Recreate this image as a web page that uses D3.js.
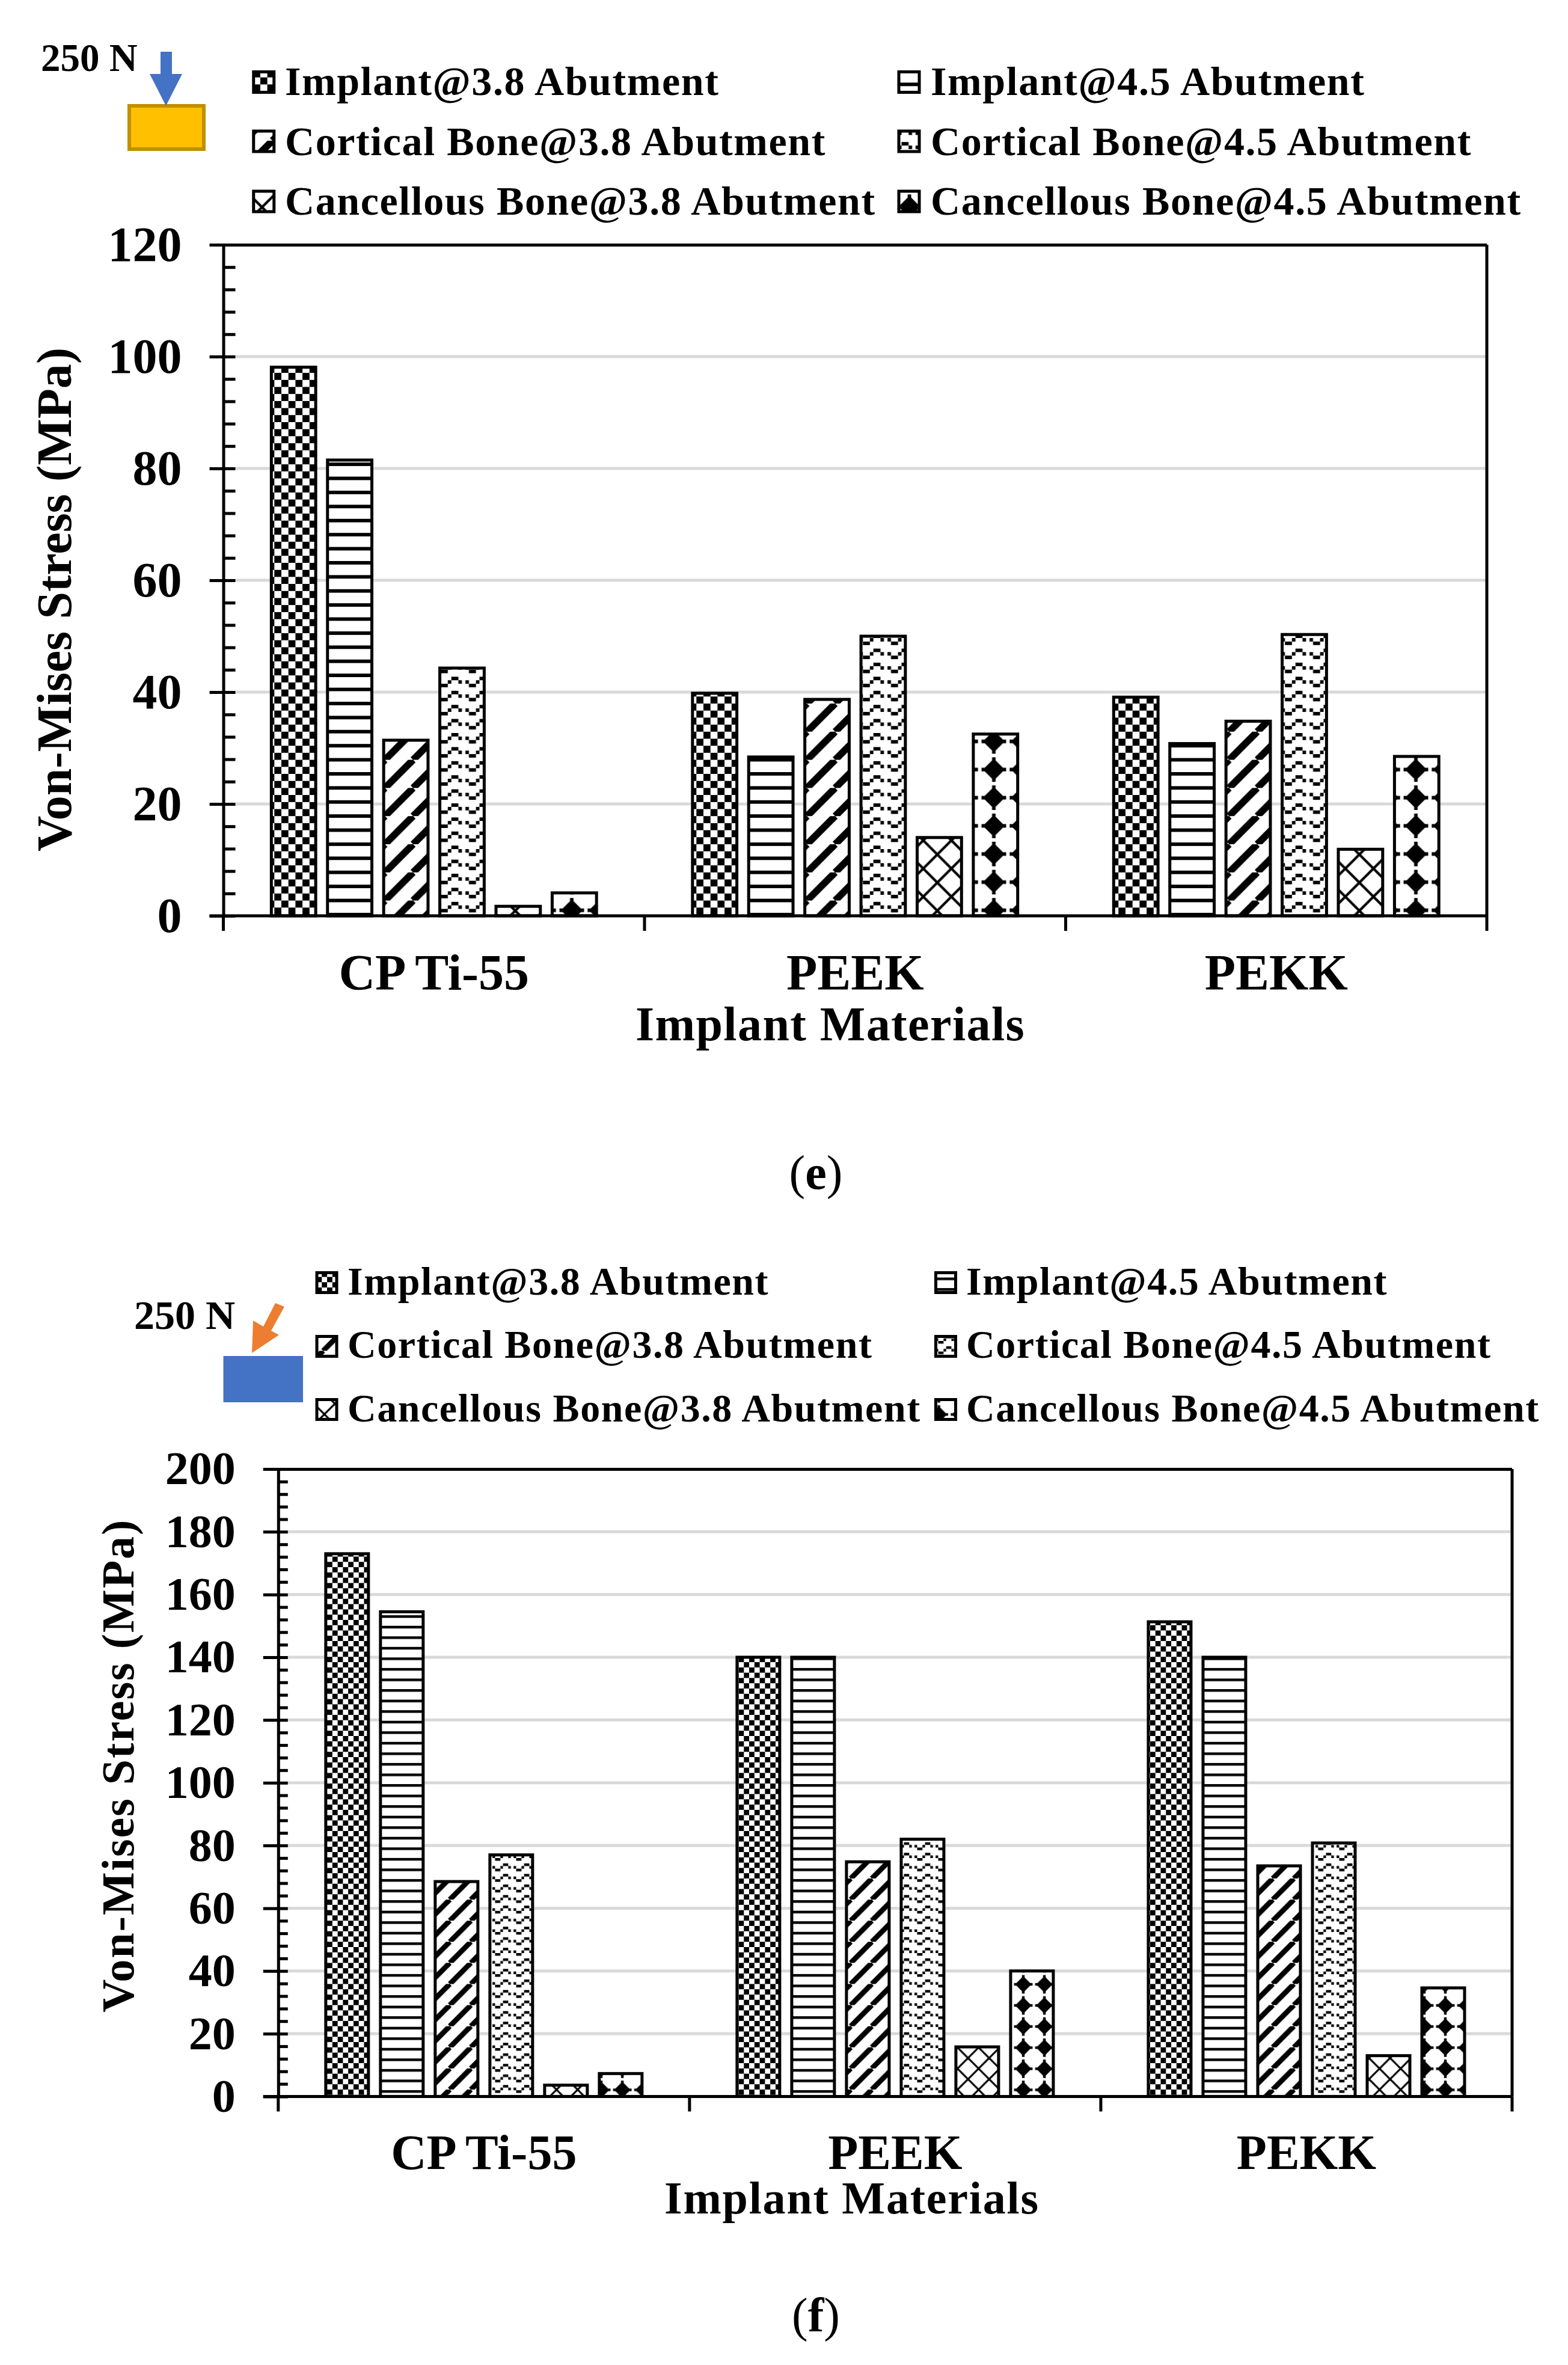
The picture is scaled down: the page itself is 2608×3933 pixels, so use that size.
<!DOCTYPE html>
<html>
<head>
<meta charset="utf-8">
<script src="https://d3js.org/d3.v7.min.js"></script>
<style>
  body { margin: 0; background: #fff; }
  text { font-family: "Liberation Serif", serif; fill: #000; }
</style>
</head>
<body>
<div id="chart"></div>
<script>
// categories and series
var materials = ["CP Ti-55", "PEEK", "PEKK"];
var seriesNames = [
  "Implant@3.8 Abutment", "Implant@4.5 Abutment",
  "Cortical Bone@3.8 Abutment", "Cortical Bone@4.5 Abutment",
  "Cancellous Bone@3.8 Abutment", "Cancellous Bone@4.5 Abutment"
];

// panel (e), one array per material, same order as seriesNames
var valuesE_Ti = [98.1, 81.5, 31.4, 44.3, 1.7, 4.1];
var valuesE_Peek = [39.8, 28.4, 38.7, 50, 14, 32.5];
var valuesE_Pekk = [39.1, 30.8, 34.8, 50.3, 11.9, 28.5];

// panel (f)
var valuesF_Ti = [173, 154.5, 68.5, 77, 3.6, 7.3];
var valuesF_Peek = [140, 140, 74.8, 82, 15.8, 40];
var valuesF_Pekk = [151.3, 140, 73.5, 80.8, 13, 34.6];

var ticksE = [0, 20, 40, 60, 80, 100, 120];
var ticksF = [0, 20, 40, 60, 80, 100, 120, 140, 160, 180, 200];

var svg = d3.select("#chart").append("svg")
  .attr("width", 2608)
  .attr("height", 3933)
  .style("display", "block");

var defs = svg.append("defs");

// fill patterns, s is the tile scale of the panel, o holds the tile offsets
function addPatterns(id, s, o) {
  var u = 5.85 * s; // one cell of the 8x8 office pattern

  function tile(name, w, h, off) {
    var p = defs.append("pattern")
      .attr("id", id + name)
      .attr("patternUnits", "userSpaceOnUse")
      .attr("x", off ? off[0] : 0)
      .attr("y", off ? off[1] : 0)
      .attr("width", w)
      .attr("height", h);
    p.append("rect").attr("width", w).attr("height", h).attr("fill", "#fff");
    return p;
  }

  // checker
  var c = tile("check", 4 * u, 4 * u);
  c.append("rect").attr("width", 2 * u).attr("height", 2 * u);
  c.append("rect").attr("x", 2 * u).attr("y", 2 * u).attr("width", 2 * u).attr("height", 2 * u);

  // horizontal lines
  var h = tile("hline", 4 * u, 4 * u, o.hline);
  h.append("rect").attr("width", 4 * u).attr("height", u);

  // diagonal stripes
  var d = tile("diag", 8 * u, 8 * u, o.diag);
  [[0, 8, 8, 0], [-8, 8, 0, 0], [8, 8, 16, 0]].forEach(function(l) {
    d.append("line")
      .attr("x1", l[0] * u).attr("y1", l[1] * u)
      .attr("x2", l[2] * u).attr("y2", l[3] * u)
      .attr("stroke", "#000").attr("stroke-width", 2 * u);
  });

  // broken wave, cells of one period
  var w = tile("wave", 8 * u, 4 * u, o.wave);
  [[0, 0, 2], [2, 1, 1], [4, 1, 1], [5, 2, 2], [7, 1, 1]].forEach(function(b) {
    w.append("rect")
      .attr("x", b[0] * u).attr("y", b[1] * u)
      .attr("width", b[2] * u).attr("height", u);
  });

  // thin lattice
  var x = tile("lattice", 8 * u, 8 * u, o.lattice);
  [[0, 0, 8, 8], [8, 0, 0, 8]].forEach(function(l) {
    x.append("line")
      .attr("x1", l[0] * u).attr("y1", l[1] * u)
      .attr("x2", l[2] * u).attr("y2", l[3] * u)
      .attr("stroke", "#000").attr("stroke-width", 0.72 * u);
  });

  // solid diamonds with small tips
  var m = tile("diamond", 8 * u, 8 * u, o.diamond);
  var pts = [[-.5, -3.5], [.5, -3.5], [.5, -2.6], [2.6, -.5], [3.5, -.5], [3.5, .5], [2.6, .5],
    [.5, 2.6], [.5, 3.5], [-.5, 3.5], [-.5, 2.6], [-2.6, .5], [-3.5, .5], [-3.5, -.5], [-2.6, -.5], [-.5, -2.6]];
  m.append("polygon")
    .attr("points", pts.map(function(p) { return [(p[0] + 4) * u, (p[1] + 4) * u].join(","); }).join(" "));
}
addPatterns("e", 1, {
  hline: [0, -3], diag: [31.9, 0], wave: [1.9, 2.2], lattice: [-8.8, -6.4], diamond: [-8.4, -7.2]
});
addPatterns("f", 0.75, {
  hline: [0, 1], diag: [11, 0], wave: [29.3, 10], lattice: [-4.5, -17.3], diamond: [-0.35, -17]
});

var patternNames = ["check", "hline", "diag", "wave", "lattice", "diamond"];

function drawPanel(cfg) {
  var y = d3.scaleLinear().domain([0, cfg.max]).range([cfg.bottom, cfg.top]);
  var x0 = d3.scaleBand().domain(materials).range([cfg.left, cfg.right]);
  var x1 = d3.scaleBand().domain(seriesNames)
    .range([cfg.inset, x0.bandwidth() - cfg.inset])
    .paddingInner(cfg.barGap).paddingOuter(cfg.barGap / 2);

  var g = svg.append("g");

  // gridlines under the bars
  g.selectAll(".grid")
    .data(cfg.ticks.filter(function(d) { return d > 0 && d < cfg.max; }))
    .enter().append("line")
    .attr("x1", cfg.left + cfg.minorLen).attr("x2", cfg.right)
    .attr("y1", y).attr("y2", y)
    .attr("stroke", "#d9d9d9").attr("stroke-width", 5);

  // bars
  cfg.values.forEach(function(vals, i) {
    g.selectAll(".bar" + i)
      .data(vals)
      .enter().append("rect")
      .attr("x", function(d, j) { return x0(materials[i]) + x1(seriesNames[j]); })
      .attr("y", function(d) { return y(d); })
      .attr("width", x1.bandwidth())
      .attr("height", function(d) { return y(0) - y(d); })
      .attr("fill", function(d, j) { return "url(#" + cfg.id + patternNames[j] + ")"; })
      .attr("stroke", "#000")
      .attr("stroke-width", 5);
  });

  // minor ticks
  var minor = [];
  cfg.ticks.slice(0, -1).forEach(function(t) {
    for (var k = 1; k < 5; k++) minor.push(t + k * cfg.ticks[1] / 5);
  });
  var minorAxis = g.append("g")
    .attr("transform", "translate(" + cfg.left + ",0)")
    .call(d3.axisRight(y).tickValues(minor).tickSize(cfg.minorLen).tickFormat(""));
  minorAxis.select(".domain").remove();
  minorAxis.selectAll("line").attr("stroke", "#000").attr("stroke-width", 5);

  // y axis, ticks cross the axis line
  var yAxis = g.append("g")
    .attr("transform", "translate(" + cfg.left + ",0)")
    .call(d3.axisLeft(y).tickValues(cfg.ticks).tickSize(cfg.majorOut).tickPadding(cfg.labelPad).tickSizeOuter(0));
  yAxis.select(".domain").attr("stroke", "#000").attr("stroke-width", 5);
  yAxis.selectAll("line")
    .attr("stroke", "#000").attr("stroke-width", 5)
    .attr("x2", function(d) { return d === cfg.max ? cfg.right - cfg.left : cfg.minorLen; })
    .attr("x1", -cfg.majorOut);
  yAxis.selectAll("text")
    .style("font-size", cfg.tickFont + "px")
    .style("font-weight", "bold")
    .style("font-family", "Liberation Serif");

  // x axis labels
  var xAxis = g.append("g")
    .attr("transform", "translate(0," + cfg.bottom + ")")
    .call(d3.axisBottom(x0).tickSize(0).tickPadding(cfg.catPad));
  xAxis.select(".domain").remove();
  xAxis.selectAll("text")
    .style("font-size", cfg.catFont + "px")
    .style("font-weight", "bold")
    .style("font-family", "Liberation Serif");

  // baseline and right edge
  g.append("line")
    .attr("x1", cfg.left - cfg.majorOut).attr("x2", cfg.right)
    .attr("y1", y(0)).attr("y2", y(0))
    .attr("stroke", "#000").attr("stroke-width", 5);
  g.append("line")
    .attr("x1", cfg.right).attr("x2", cfg.right)
    .attr("y1", y(cfg.max)).attr("y2", y(0))
    .attr("stroke", "#000").attr("stroke-width", 5);

  // ticks between categories
  var edges = materials.map(function(m) { return x0(m); }).concat([cfg.right]);
  g.selectAll(".edge")
    .data(edges)
    .enter().append("line")
    .attr("x1", function(d) { return d; }).attr("x2", function(d) { return d; })
    .attr("y1", y(0)).attr("y2", y(0) + cfg.xTickLen)
    .attr("stroke", "#000").attr("stroke-width", 5);

  // axis titles
  g.append("text")
    .attr("transform", "translate(" + cfg.yTitleX + "," + cfg.yTitleY + ") rotate(-90)")
    .attr("text-anchor", "middle")
    .style("font-size", cfg.yTitleFont + "px")
    .style("font-weight", "bold")
    .style("letter-spacing", cfg.yTitleSpacing + "px")
    .text("Von-Mises Stress (MPa)");
  g.append("text")
    .attr("x", cfg.xTitleX).attr("y", cfg.xTitleY)
    .attr("text-anchor", "middle")
    .style("font-size", cfg.xTitleFont + "px")
    .style("font-weight", "bold")
    .style("letter-spacing", cfg.xTitleSpacing + "px")
    .text("Implant Materials");

  // legend, two columns of three rows
  seriesNames.forEach(function(name, i) {
    var col = i % 2, row = Math.floor(i / 2);
    g.append("rect")
      .attr("x", cfg.swatchX[col] - cfg.swatch / 2)
      .attr("y", cfg.swatchY[row] - cfg.swatch / 2)
      .attr("width", cfg.swatch).attr("height", cfg.swatch)
      .attr("fill", "url(#" + cfg.id + patternNames[i] + ")")
      .attr("stroke", "#000").attr("stroke-width", 5);
    g.append("text")
      .attr("x", cfg.legendTextX[col]).attr("y", cfg.legendY[row])
      .style("font-size", cfg.legendFont + "px")
      .style("font-weight", "bold")
      .style("letter-spacing", cfg.legendSpacing + "px")
      .text(name);
  });

  // panel letter, only the letter is bold
  var cap = g.append("text")
    .attr("x", 1357).attr("y", cfg.captionY)
    .attr("text-anchor", "middle")
    .style("font-size", "80px");
  cap.append("tspan").text("(");
  cap.append("tspan").style("font-weight", "bold").text(cfg.caption);
  cap.append("tspan").text(")");

  // load note
  g.append("text")
    .attr("x", cfg.loadX).attr("y", cfg.loadY)
    .style("font-size", cfg.loadFont + "px")
    .style("font-weight", "bold")
    .text("250 N");
}

drawPanel({
  id: "e", caption: "e", captionY: 1977,
  values: [valuesE_Ti, valuesE_Peek, valuesE_Pekk],
  max: 120, ticks: ticksE,
  left: 371.5, right: 2473, top: 407, bottom: 1523,
  inset: 70, barGap: 0.21,
  minorLen: 20, majorOut: 23, xTickLen: 25, labelPad: 46,
  tickFont: 82, catFont: 84, catPad: 63,
  yTitleFont: 82, yTitleX: 118, yTitleY: 997, yTitleSpacing: 0,
  xTitleFont: 80, xTitleX: 1381, xTitleY: 1730, xTitleSpacing: 1.4,
  swatchX: [438.75, 1512], swatchY: [136.5, 235, 335], swatch: 34,
  legendTextX: [474, 1548], legendY: [158, 258, 357],
  legendFont: 68, legendSpacing: 1.6,
  loadX: 68, loadY: 118, loadFont: 65
});

drawPanel({
  id: "f", caption: "f", captionY: 3877,
  values: [valuesF_Ti, valuesF_Peek, valuesF_Pekk],
  max: 200, ticks: ticksF,
  left: 462.8, right: 2515, top: 2443, bottom: 3486.4,
  inset: 69, barGap: 0.22,
  minorLen: 16, majorOut: 25, xTickLen: 25, labelPad: 46,
  tickFont: 78, catFont: 82, catPad: 62,
  yTitleFont: 76, yTitleX: 222, yTitleY: 2936, yTitleSpacing: 2,
  xTitleFont: 76, xTitleX: 1417, xTitleY: 3681, xTitleSpacing: 1.8,
  swatchX: [543.5, 1573], swatchY: [2133, 2239, 2344], swatch: 33,
  legendTextX: [578, 1607], legendY: [2153, 2258, 2364],
  legendFont: 66, legendSpacing: 1.55,
  loadX: 223, loadY: 2210, loadFont: 68
});

// load sketches above each panel
var sketch = svg.append("g");
sketch.append("rect")
  .attr("x", 215).attr("y", 176).attr("width", 124).attr("height", 72)
  .attr("fill", "#ffc000").attr("stroke", "#bf9000").attr("stroke-width", 6);
sketch.append("polygon")
  .attr("points", "267,86 286,86 286,123 303,123 276,176 249,123 267,123")
  .attr("fill", "#4472c4");
sketch.append("rect")
  .attr("x", 371.5).attr("y", 2255).attr("width", 132.5).attr("height", 77)
  .attr("fill", "#4472c4");
sketch.append("polygon")
  .attr("points", "458,2167 473,2173 451,2213 464,2220 419,2250 421,2196 438,2206")
  .attr("fill", "#ed7d31");
</script>
</body>
</html>
